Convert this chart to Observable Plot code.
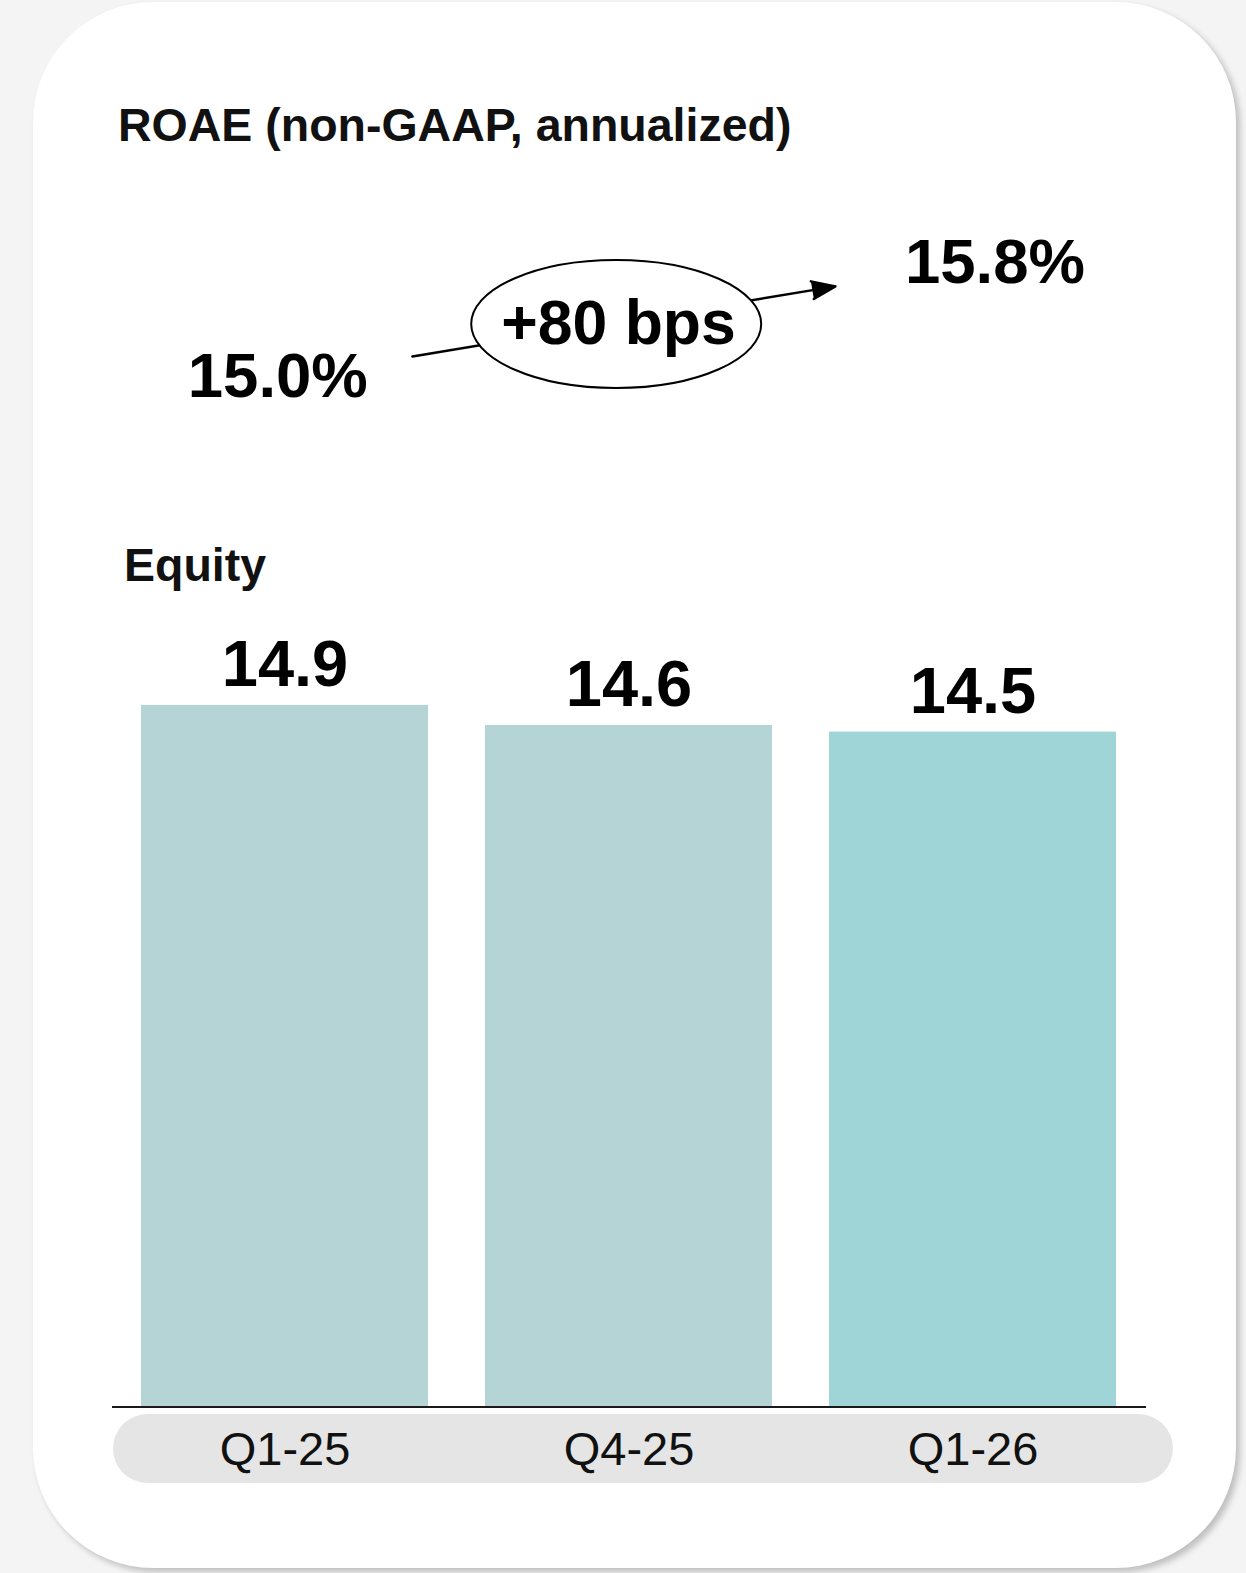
<!DOCTYPE html>
<html>
<head>
<meta charset="utf-8">
<script src="https://cdn.jsdelivr.net/npm/d3@7"></script>
<script src="https://cdn.jsdelivr.net/npm/@observablehq/plot@0.6"></script>
<style>
  html, body { margin: 0; padding: 0; }
  body { width: 1246px; height: 1573px; background: #f4f4f5; overflow: hidden; font-family: "Liberation Sans", Arial, sans-serif; }
  #wrap { position: relative; width: 1246px; height: 1573px; }
  #card { position: absolute; left: 33px; top: 2px; width: 1203px; height: 1566px; background: #fff; border-radius: 120px; box-shadow: 4px 4px 6px rgba(0,0,0,0.22); }
  .ttl { position: absolute; font-weight: bold; font-size: 46.5px; line-height: 46.5px; color: #111; white-space: nowrap; }
  #title { left: 118px; top: 102px; }
  #equity { left: 124px; top: 542px; }
  #pill { position: absolute; left: 113px; top: 1414px; width: 1060px; height: 69px; border-radius: 34.5px; background: #e5e5e5; }
  #roae, #bars { position: absolute; left: 0; }
  #roae { top: 200px; }
  #bars { top: 600px; }
</style>
</head>
<body>
<div id="wrap">
  <div id="card"></div>
  <div id="title" class="ttl">ROAE (non-GAAP, annualized)</div>
  <div id="equity" class="ttl">Equity</div>
  <div id="pill"></div>
  <div id="roae"></div>
  <div id="bars"></div>
</div>
<script>
// ---- data ----
const quarters = ["Q1-25", "Q4-25", "Q1-26"];
const equity = [14.9, 14.6, 14.5];
const barColors = ["#b4d4d6", "#b4d4d6", "#a0d5d7"];
const roaeQuarters = ["Q1-25", "Q1-26"];
const roaeValues = [15.0, 15.8];

const font = "'Liberation Sans', Arial, sans-serif";
const equityRows = quarters.map((q, i) => ({quarter: q, value: equity[i]}));
const roaeRows = roaeQuarters.map((q, i) => ({quarter: q, value: roaeValues[i]}));
const deltaBps = Math.round((roaeValues[1] - roaeValues[0]) * 100);
const midQuarter = quarters[1];
const midValue = (roaeValues[0] + roaeValues[1]) / 2;

// ---- ROAE annotation plot ----
function ellipseMark(rx, ry, dx, dy) {
  return (index, scales) => {
    const x = scales.x, y = scales.y;
    const bw = typeof x.bandwidth === "function" ? x.bandwidth() : (x.bandwidth || 0);
    const cx = x(midQuarter) + bw / 2 + dx;
    const cy = y(midValue) + dy;
    const e = document.createElementNS("http://www.w3.org/2000/svg", "ellipse");
    e.setAttribute("cx", cx);
    e.setAttribute("cy", cy);
    e.setAttribute("rx", rx);
    e.setAttribute("ry", ry);
    e.setAttribute("fill", "#fff");
    e.setAttribute("stroke", "#000");
    e.setAttribute("stroke-width", 2);
    return e;
  };
}

const roaePlot = Plot.plot({
  width: 1246,
  height: 240,
  marginLeft: 112,
  marginRight: 100,
  marginTop: 82,
  marginBottom: 44,
  x: {domain: quarters, paddingInner: 0.165, paddingOuter: 0.083, axis: null},
  y: {domain: [roaeValues[0], roaeValues[1]], axis: null},
  style: {fontFamily: font, background: "transparent", overflow: "visible"},
  marks: [
    Plot.arrow([{}], {
      x1: () => roaeQuarters[0], y1: () => roaeValues[0],
      x2: () => roaeQuarters[1], y2: () => roaeValues[1],
      dy: -19, insetStart: 128.7, insetEnd: 140,
      stroke: "#000", fill: "#000", strokeWidth: 2.5, headLength: 15, headAngle: 42
    }),
    ellipseMark(145, 64, -12.8, -15),
    Plot.text(roaeRows, {
      x: "quarter", y: "value",
      text: d => d.value.toFixed(1) + "%",
      fontSize: 63.5, fontWeight: "bold", fill: "#000", lineAnchor: "bottom",
      textAnchor: "middle"
    }),
    Plot.text([{}], {
      x: () => midQuarter, y: () => midValue,
      text: () => "+" + deltaBps + " bps",
      dx: -11, dy: 4,
      fontSize: 62.5, fontWeight: "bold", fill: "#000", lineAnchor: "bottom"
    })
  ]
});
document.getElementById("roae").append(roaePlot);
{
  // small horizontal nudges of the ROAE value labels relative to their quarter
  const labelOffsets = [-7.7, 21.5];
  const valTexts = Array.from(roaePlot.querySelectorAll("text")).filter(t => /%$/.test(t.textContent));
  valTexts.forEach((t, i) => {
    const x0 = +t.getAttribute("x") || 0;
    t.setAttribute("x", x0 + labelOffsets[i]);
  });
}

// ---- Equity bar chart ----
const yFloor = 4.4;
const barPlot = Plot.plot({
  width: 1246,
  height: 900,
  marginLeft: 112,
  marginRight: 100,
  marginTop: 104.9,
  marginBottom: 93.5,
  x: {domain: quarters, paddingInner: 0.165, paddingOuter: 0.083, label: null, tickSize: 0, tickPadding: 25},
  y: {domain: [yFloor, 14.9], axis: null},
  color: {domain: quarters, range: barColors},
  style: {fontFamily: font, fontSize: "47px", color: "#111", background: "transparent", overflow: "visible"},
  marks: [
    Plot.barY(equityRows, {x: "quarter", y1: () => yFloor, y2: "value", fill: "quarter"}),
    Plot.ruleY([yFloor], {stroke: "#1a1a1a", strokeWidth: 2.2}),
    Plot.text(equityRows, {
      x: "quarter", y: "value", text: d => d.value.toFixed(1),
      dy: -19, lineAnchor: "bottom", fontSize: 65, fontWeight: "bold", fill: "#000"
    })
  ]
});
document.getElementById("bars").append(barPlot);
</script>
</body>
</html>
